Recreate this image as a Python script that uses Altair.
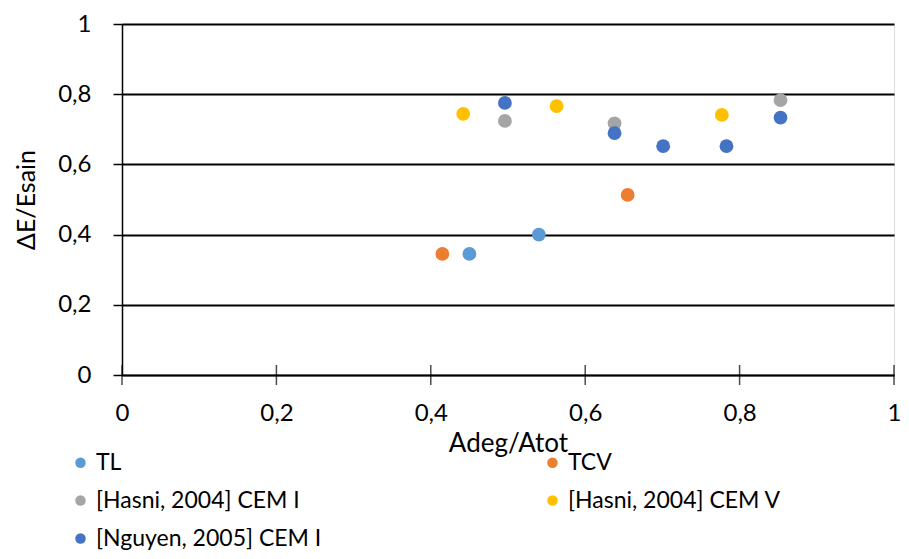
import altair as alt
import pandas as pd

series_names = ["TL", "TCV", "[Hasni, 2004] CEM I", "[Hasni, 2004] CEM V", "[Nguyen, 2005] CEM I"]
colors = ["#5B9BD5", "#ED7D31", "#A5A5A5", "#FFC000", "#4472C4"]

tl_x = [0.45, 0.54]
tl_y = [0.345, 0.40]
tcv_x = [0.415, 0.655]
tcv_y = [0.345, 0.513]
hasni1_x = [0.496, 0.638, 0.853]
hasni1_y = [0.724, 0.717, 0.783]
hasni5_x = [0.442, 0.563, 0.777]
hasni5_y = [0.744, 0.766, 0.741]
nguyen_x = [0.496, 0.638, 0.701, 0.783, 0.853]
nguyen_y = [0.775, 0.689, 0.652, 0.652, 0.733]

tick_values = [0, 0.2, 0.4, 0.6, 0.8, 1]

xs = [tl_x, tcv_x, hasni1_x, hasni5_x, nguyen_x]
ys = [tl_y, tcv_y, hasni1_y, hasni5_y, nguyen_y]
rows = []
for name, sx, sy in zip(series_names, xs, ys):
    for a, b in zip(sx, sy):
        rows.append({"series": name, "x": a, "y": b})
df = pd.DataFrame(rows)
ticks_df = pd.DataFrame({"x": tick_values, "y": [0] * len(tick_values)})

FONT = "Lato"
label_expr = "replace(format(datum.value, '.1~f'), '.', ',')"

xscale = alt.Scale(domain=[0, 1], nice=False)
yscale = alt.Scale(domain=[0, 1], nice=False)

points = alt.Chart(df).mark_circle(size=190, opacity=1).encode(
    x=alt.X("x:Q", scale=xscale,
            axis=alt.Axis(title="Adeg/Atot", values=tick_values, labelFlush=False,
                          labelExpr=label_expr, grid=False, domainColor="black",
                          domainWidth=1.5, ticks=False,
                          labelPadding=26, labelFontSize=24, titleFontSize=26,
                          labelFont=FONT, titleFont=FONT, titleFontWeight="normal",
                          labelColor="black", titleColor="black", titlePadding=5)),
    y=alt.Y("y:Q", scale=yscale,
            axis=alt.Axis(title="ΔE/Esain", values=tick_values,
                          labelExpr=label_expr, grid=True, gridColor="black", gridWidth=2,
                          domainColor="black", domainWidth=1.5, tickColor="black",
                          tickWidth=1.5, tickSize=9, labelPadding=22, labelFontSize=24,
                          titleFontSize=25, labelFont=FONT, titleFont=FONT,
                          titleFontWeight="normal", labelColor="black", titleColor="black",
                          titlePadding=18)),
    color=alt.Color("series:N", scale=alt.Scale(domain=series_names, range=colors),
                    sort=series_names,
                    legend=alt.Legend(title=None, orient="none", legendX=-53, legendY=427,
                                      direction="horizontal",
                                      columns=2, columnPadding=219, rowPadding=14,
                                      symbolType="circle", symbolSize=110,
                                      labelFontSize=23, labelFont=FONT, labelColor="black",
                                      labelOffset=4, padding=0, labelLimit=400)),
)

xticks = alt.Chart(ticks_df).mark_tick(orient="vertical", size=20, thickness=1.5, color="black").encode(
    x=alt.X("x:Q", scale=xscale),
    y=alt.Y("y:Q", scale=yscale),
)

chart = alt.layer(xticks, points).properties(
    width=772, height=351,
    autosize=alt.AutoSizeParams(type="none"),
    padding={"left": 114, "top": 16, "right": 7, "bottom": 176},
).configure_view(stroke=None).configure(background="white")

chart.save("out.html", embed_options={"renderer": "svg", "actions": False})
